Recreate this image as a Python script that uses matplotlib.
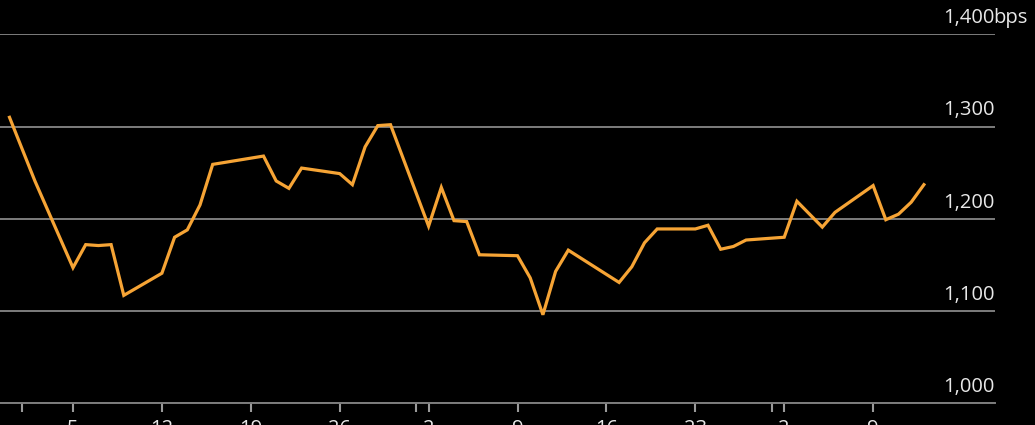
import matplotlib
matplotlib.use("Agg")
import matplotlib.pyplot as plt
import matplotlib.dates as mdates
import datetime as dt

dates = [
    "2014-12-31", "2015-01-02", "2015-01-05", "2015-01-06", "2015-01-07", "2015-01-08",
    "2015-01-09", "2015-01-12", "2015-01-13", "2015-01-14", "2015-01-15", "2015-01-16",
    "2015-01-20", "2015-01-21", "2015-01-22", "2015-01-23", "2015-01-26", "2015-01-27",
    "2015-01-28", "2015-01-29", "2015-01-30", "2015-02-02", "2015-02-03", "2015-02-04",
    "2015-02-05", "2015-02-06", "2015-02-09", "2015-02-10", "2015-02-11", "2015-02-12",
    "2015-02-13", "2015-02-17", "2015-02-18", "2015-02-19", "2015-02-20", "2015-02-23",
    "2015-02-24", "2015-02-25", "2015-02-26", "2015-02-27", "2015-03-02", "2015-03-03",
    "2015-03-05", "2015-03-06", "2015-03-09", "2015-03-10", "2015-03-11", "2015-03-12",
    "2015-03-13",
]
spread_bps = [
    1310, 1241, 1147, 1172, 1171, 1172,
    1117, 1141, 1180, 1188, 1215, 1259,
    1268, 1241, 1233, 1255, 1249, 1237,
    1278, 1301, 1302, 1192, 1234, 1198,
    1197, 1161, 1160, 1136, 1096, 1143,
    1166, 1131, 1148, 1174, 1189, 1189,
    1193, 1167, 1170, 1177, 1180, 1219,
    1191, 1207, 1236, 1199, 1205, 1218,
    1237,
]
y_ticks = [1000, 1100, 1200, 1300, 1400]
y_labels = ["1,000", "1,100", "1,200", "1,300", "1,400"]
y_unit = "bps"
week_ticks = ["2015-01-05", "2015-01-12", "2015-01-19", "2015-01-26", "2015-02-02",
              "2015-02-09", "2015-02-16", "2015-02-23", "2015-03-02", "2015-03-09"]
week_labels = ["5", "12", "19", "26", "2", "9", "16", "23", "2", "9"]
month_ticks = ["2015-01-01", "2015-02-01", "2015-03-01"]

to_dt = lambda s: dt.datetime.strptime(s, "%Y-%m-%d")
x = [to_dt(d) for d in dates]

W, H = 1035, 425
fig = plt.figure(figsize=(W / 100, H / 100), dpi=100, facecolor="black")
ax_left, ax_right = 0, 995
ax_top, ax_bot = 34.3, 403.3
ax = fig.add_axes([ax_left / W, (H - ax_bot) / H, (ax_right - ax_left) / W, (ax_bot - ax_top) / H])
ax.set_facecolor("black")

grid_c = "#7d7d7d"
tick_c = "#9a9a9a"
text_c = "#e8e8e8"
font = "Open Sans"

ax.plot(x, spread_bps, color="#f6a435", lw=2.3, solid_joinstyle="miter", zorder=3)

px_per_day = 12.7
x0 = mdates.date2num(to_dt("2015-01-05")) - 1.0 / px_per_day
ax.set_xlim(x0 - 72 / px_per_day, x0 + (995 - 72) / px_per_day)
ax.set_ylim(1000, 1400)

for v in y_ticks:
    ax.axhline(v, color=grid_c, lw=1.4, zorder=1)

ax.set_yticks([])
for v, lab in zip(y_ticks, y_labels):
    ax.annotate(lab, xy=(1, v), xycoords=("axes fraction", "data"),
                xytext=(0, 4.5), textcoords="offset points",
                ha="right", va="bottom", color=text_c, fontsize=14.5, family=font)
ax.annotate(y_unit, xy=(1, 1400), xycoords=("axes fraction", "data"),
            xytext=(-1.5, 4.5), textcoords="offset points",
            ha="left", va="bottom", color=text_c, fontsize=14.5, family=font,
            annotation_clip=False)

ax.set_xticks([to_dt(d) for d in week_ticks])
ax.set_xticklabels(week_labels)
ax.set_xticks([to_dt(d) for d in month_ticks], minor=True)
ax.tick_params(axis="x", which="both", length=6.5, width=1.5, color=tick_c,
               labelcolor=text_c, labelsize=14.5, pad=5)
for lab in ax.get_xticklabels():
    lab.set_family(font)

for s in ["top", "left", "right"]:
    ax.spines[s].set_visible(False)
ax.spines["bottom"].set_color(grid_c)
ax.spines["bottom"].set_linewidth(1.4)

fig.savefig("out.png", dpi=100, facecolor="black")
